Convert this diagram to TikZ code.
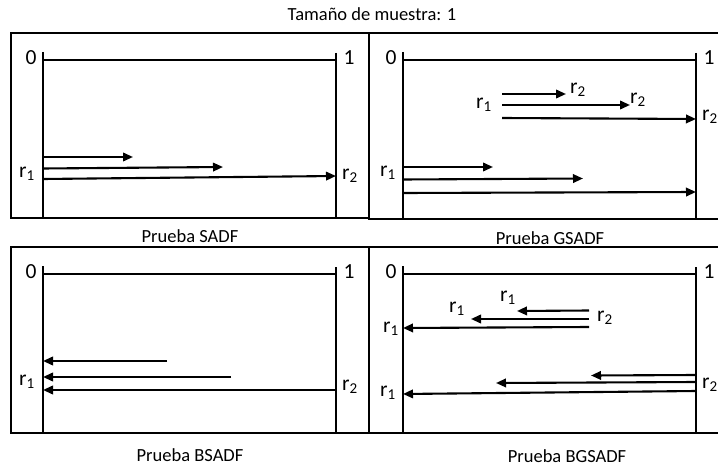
\documentclass[tikz,border=0pt]{standalone}
\usepackage{fontspec}
\setmainfont{Carlito}
\usetikzlibrary{arrows.meta}

\begin{document}
\begin{tikzpicture}[x=1pt,y=-1pt,
  panelframe/.style={line width=1.8pt},
  axisline/.style={line width=2.4pt},
  arr/.style={line width=2.1pt,-{Triangle[length=10pt,width=8.5pt]}},
  lbl/.style={font=\fontsize{21.5}{24}\selectfont, inner sep=0pt},
  captext/.style={font=\fontsize{18.5}{21}\selectfont, inner sep=0pt}]

\useasboundingbox (0,0) rectangle (718,468);

% title
\node[captext] (title) at (372,14) {Tamaño de muestra: 1};

% panel frames
\draw[panelframe] (11,33) rectangle (369,218);
\draw[panelframe] (369,33) rectangle (722,219);
\draw[panelframe] (11,247) rectangle (369,433);
\draw[panelframe] (369,247) rectangle (722,433);

% axes of each panel: interval [0,1] with two end posts
\foreach \dx/\dy/\p in {0/0/a,360/0/b,0/214/c,360/214/d} {
  \begin{scope}[shift={(\dx,\dy)}]
    \coordinate (\p-l) at (43,60);
    \coordinate (\p-r) at (336,60);
    \draw[axisline] (\p-l) -- (\p-r);
    \draw[axisline] (43,52) -- (43,218.5);
    \draw[axisline] (336,53) -- (336,218.5);
    \node[lbl] (\p-zero) at (31,58) {0};
    \node[lbl] (\p-one) at (349,58) {1};
  \end{scope}
}

% captions
\node[captext] (capa) at (190,236) {Prueba SADF};
\node[captext] (capb) at (550,238) {Prueba GSADF};
\node[captext] (capc) at (190,455) {Prueba BSADF};
\node[captext] (capd) at (567,456) {Prueba BGSADF};

% ---- SADF: forward expanding windows from a fixed start
\coordinate (a1s) at (43,157);  \coordinate (a1e) at (133,157);
\coordinate (a2s) at (43,168.5);\coordinate (a2e) at (223,167);
\coordinate (a3s) at (43,179);  \coordinate (a3e) at (336,176);
\draw[arr] (a1s) -- (a1e);
\draw[arr] (a2s) -- (a2e);
\draw[arr] (a3s) -- (a3e);
\node[lbl] (ar1) at (27,174) {r\textsubscript{1}};
\node[lbl] (ar2) at (350,176) {r\textsubscript{2}};

% ---- GSADF: windows from moving starts
\node[lbl] (br1a) at (484,105) {r\textsubscript{1}};
\coordinate (b1s) at (502,94);  \coordinate (b1e) at (566,94);
\coordinate (b2s) at (502,105); \coordinate (b2e) at (630,105);
\coordinate (b3s) at (502,118); \coordinate (b3e) at (696,119);
\draw[arr] (b1s) -- (b1e);
\draw[arr] (b2s) -- (b2e);
\draw[arr] (b3s) -- (b3e);
\node[lbl] (br2a) at (578,90) {r\textsubscript{2}};
\node[lbl] (br2b) at (638,100) {r\textsubscript{2}};
\node[lbl] (br2c) at (710,117) {r\textsubscript{2}};

\node[lbl] (br1b) at (388,173) {r\textsubscript{1}};
\coordinate (b4s) at (403,167);   \coordinate (b4e) at (493,167);
\coordinate (b5s) at (403,179.5); \coordinate (b5e) at (583,178.5);
\coordinate (b6s) at (403,193);   \coordinate (b6e) at (696,192);
\draw[arr] (b4s) -- (b4e);
\draw[arr] (b5s) -- (b5e);
\draw[arr] (b6s) -- (b6e);

% ---- BSADF: backward expanding windows from a fixed end
\coordinate (c1s) at (167,361); \coordinate (c1e) at (43,361);
\coordinate (c2s) at (231,377); \coordinate (c2e) at (43,377);
\coordinate (c3s) at (336,390); \coordinate (c3e) at (43,390);
\draw[arr] (c1s) -- (c1e);
\draw[arr] (c2s) -- (c2e);
\draw[arr] (c3s) -- (c3e);
\node[lbl] (cr1) at (27,382) {r\textsubscript{1}};
\node[lbl] (cr2) at (350,387) {r\textsubscript{2}};

% ---- BGSADF: backward windows from moving ends
\coordinate (d1s) at (589,310.5); \coordinate (d1e) at (517,311);
\coordinate (d2s) at (589,319);   \coordinate (d2e) at (471,319);
\coordinate (d3s) at (589,327);   \coordinate (d3e) at (403,328);
\draw[arr] (d1s) -- (d1e);
\draw[arr] (d2s) -- (d2e);
\draw[arr] (d3s) -- (d3e);
\node[lbl] (dr1a) at (508,298) {r\textsubscript{1}};
\node[lbl] (dr1b) at (457,309) {r\textsubscript{1}};
\node[lbl] (dr1c) at (391,329) {r\textsubscript{1}};
\node[lbl] (dr2a) at (605,318) {r\textsubscript{2}};

\coordinate (d4s) at (696,375); \coordinate (d4e) at (591,375.5);
\coordinate (d5s) at (696,382); \coordinate (d5e) at (496,383);
\coordinate (d6s) at (696,391); \coordinate (d6e) at (403,394);
\draw[arr] (d4s) -- (d4e);
\draw[arr] (d5s) -- (d5e);
\draw[arr] (d6s) -- (d6e);
\node[lbl] (dr2b) at (710,385) {r\textsubscript{2}};
\node[lbl] (dr1d) at (388,393) {r\textsubscript{1}};
\end{tikzpicture}
\end{document}
